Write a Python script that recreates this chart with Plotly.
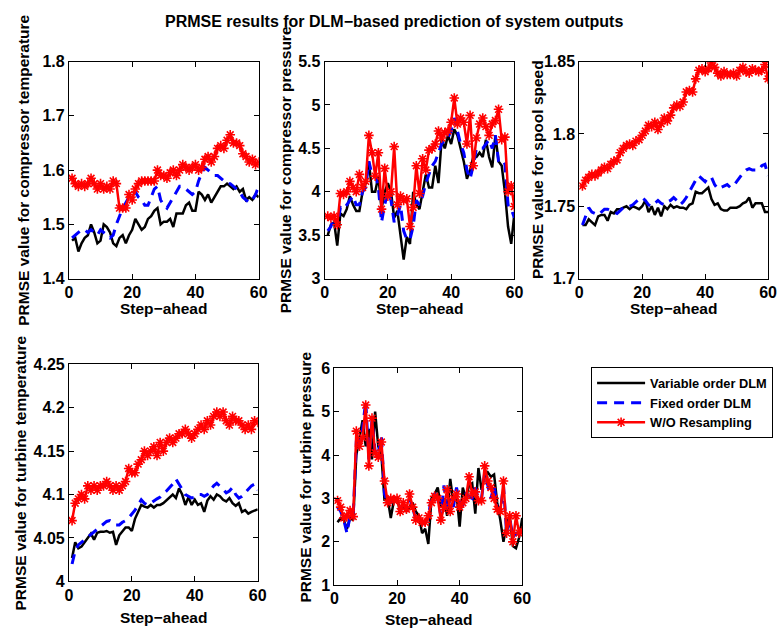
import plotly.graph_objects as go

W, H = 783, 640

steps = list(range(1, 61))

# ---- compressor temperature ----
ct_variable = [1.470, 1.475, 1.450, 1.465, 1.475, 1.480, 1.500, 1.485, 1.465, 1.470,
               1.500, 1.495, 1.485, 1.465, 1.460, 1.475, 1.480, 1.465, 1.480, 1.490,
               1.510, 1.500, 1.490, 1.495, 1.510, 1.515, 1.525, 1.530, 1.500, 1.505,
               1.505, 1.510, 1.495, 1.520, 1.520, 1.520, 1.535, 1.540, 1.525, 1.525,
               1.560, 1.555, 1.545, 1.555, 1.540, 1.550, 1.560, 1.570, 1.570, 1.575,
               1.570, 1.565, 1.570, 1.560, 1.565, 1.545, 1.550, 1.545, 1.555, 1.550]
ct_fixed = [1.475, 1.480, 1.485, 1.490, 1.490, 1.485, 1.490, 1.485, 1.480, 1.490,
            1.485, 1.480, 1.475, 1.480, 1.500, 1.515, 1.530, 1.540, 1.550, 1.555,
            1.560, 1.550, 1.545, 1.535, 1.535, 1.550, 1.565, 1.570, 1.545, 1.535,
            1.530, 1.540, 1.550, 1.560, 1.570, 1.570, 1.565, 1.560, 1.555, 1.560,
            1.580, 1.595, 1.605, 1.600, 1.595, 1.590, 1.590, 1.585, 1.580, 1.575,
            1.575, 1.570, 1.565, 1.560, 1.550, 1.545, 1.540, 1.545, 1.555, 1.570]
ct_noresamp = [1.585, 1.575, 1.570, 1.575, 1.570, 1.575, 1.585, 1.575, 1.565, 1.575,
               1.565, 1.570, 1.565, 1.580, 1.575, 1.530, 1.530, 1.530, 1.555, 1.545,
               1.565, 1.575, 1.580, 1.580, 1.580, 1.580, 1.580, 1.600, 1.590, 1.590,
               1.585, 1.595, 1.600, 1.590, 1.600, 1.610, 1.605, 1.600, 1.605, 1.610,
               1.600, 1.605, 1.620, 1.625, 1.615, 1.625, 1.640, 1.645, 1.640, 1.655,
               1.665, 1.650, 1.650, 1.645, 1.630, 1.625, 1.615, 1.620, 1.610, 1.615]

# ---- compressor pressure ----
cp_variable = [3.50, 3.62, 3.65, 3.38, 3.75, 3.72, 3.80, 3.95, 3.85, 3.78,
               3.78, 4.00, 4.10, 4.35, 4.00, 4.00, 4.18, 3.80, 4.00, 4.10,
               4.00, 3.70, 3.78, 3.50, 3.22, 3.48, 3.40, 4.00, 3.85, 3.80,
               4.00, 4.20, 4.05, 4.05, 4.30, 4.10, 4.60, 4.50, 4.65, 4.55,
               4.72, 4.65, 4.50, 4.35, 4.15, 4.25, 4.40, 4.40, 4.45, 4.40,
               4.60, 4.40, 4.28, 4.65, 4.35, 4.30, 4.00, 3.60, 3.40, 3.75]
cp_fixed = [3.55, 3.60, 3.70, 3.60, 3.82, 3.80, 3.85, 3.90, 3.95, 3.85,
            3.85, 4.00, 4.05, 4.35, 4.20, 4.20, 4.05, 3.65, 3.85, 4.00,
            3.90, 3.65, 3.72, 3.85, 3.55, 3.45, 3.45, 3.60, 3.90, 3.85,
            3.95, 4.10, 4.20, 4.30, 4.35, 4.45, 4.55, 4.60, 4.62, 4.70,
            4.85, 4.70, 4.55, 4.45, 4.25, 4.15, 4.30, 4.50, 4.50, 4.50,
            4.55, 4.60, 4.50, 4.65, 4.35, 4.30, 4.32, 3.85, 3.80, 3.70]
cp_noresamp = [3.72, 3.70, 3.72, 3.62, 3.98, 3.97, 4.00, 4.12, 4.05, 4.00,
               4.20, 4.05, 4.12, 4.65, 4.45, 4.18, 4.45, 3.80, 4.27, 3.95,
               4.00, 4.52, 3.85, 3.95, 3.90, 3.92, 3.60, 3.82, 4.30, 3.98,
               4.38, 4.25, 4.48, 4.50, 4.55, 4.70, 4.62, 4.68, 4.70, 4.80,
               5.08, 4.78, 4.85, 4.80, 4.55, 4.88, 4.30, 4.62, 4.78, 4.85,
               4.75, 4.65, 4.78, 4.82, 4.95, 4.60, 4.63, 4.00, 4.07, 3.83]

# ---- spool speed ----
ss_variable = [1.737, 1.737, 1.741, 1.739, 1.737, 1.743, 1.744, 1.744, 1.740, 1.746,
               1.745, 1.748, 1.748, 1.749, 1.750, 1.748, 1.750, 1.749, 1.748, 1.750,
               1.754, 1.746, 1.750, 1.744, 1.749, 1.743, 1.750, 1.748, 1.751, 1.749,
               1.750, 1.749, 1.749, 1.748, 1.751, 1.752, 1.760, 1.759, 1.759, 1.761,
               1.763, 1.755, 1.751, 1.752, 1.748, 1.747, 1.747, 1.749, 1.749, 1.749,
               1.750, 1.752, 1.753, 1.756, 1.749, 1.752, 1.752, 1.752, 1.746, 1.746]
ss_fixed = [1.737, 1.743, 1.749, 1.746, 1.745, 1.744, 1.746, 1.748, 1.748, 1.747,
            1.746, 1.745, 1.747, 1.749, 1.750, 1.750, 1.751, 1.753, 1.755, 1.756,
            1.754, 1.751, 1.750, 1.752, 1.754, 1.752, 1.751, 1.753, 1.754, 1.756,
            1.754, 1.751, 1.753, 1.756, 1.760, 1.765, 1.768, 1.771, 1.769, 1.767,
            1.770, 1.770, 1.765, 1.762, 1.763, 1.764, 1.765, 1.763, 1.764, 1.767,
            1.770, 1.773, 1.775, 1.776, 1.775, 1.775, 1.775, 1.778, 1.779, 1.771]
ss_noresamp = [1.764, 1.768, 1.770, 1.772, 1.771, 1.773, 1.775, 1.777, 1.776, 1.779,
               1.781, 1.782, 1.787, 1.790, 1.792, 1.793, 1.792, 1.795, 1.796, 1.799,
               1.802, 1.806, 1.805, 1.808, 1.803, 1.807, 1.811, 1.809, 1.813, 1.818,
               1.820, 1.819, 1.822, 1.829, 1.830, 1.829, 1.838, 1.844, 1.845, 1.843,
               1.845, 1.849, 1.846, 1.842, 1.840, 1.843, 1.841, 1.841, 1.842, 1.840,
               1.844, 1.846, 1.843, 1.842, 1.845, 1.844, 1.843, 1.844, 1.848, 1.838]

# ---- turbine temperature ----
tt_variable = [4.027, 4.045, 4.038, 4.040, 4.045, 4.050, 4.055, 4.048, 4.056, 4.057,
               4.057, 4.058, 4.056, 4.057, 4.042, 4.053, 4.058, 4.062, 4.062, 4.058,
               4.072, 4.080, 4.088, 4.086, 4.085, 4.088, 4.085, 4.088, 4.088, 4.090,
               4.093, 4.096, 4.100, 4.096, 4.107, 4.100, 4.088, 4.097, 4.088, 4.094,
               4.088, 4.090, 4.080, 4.093, 4.098, 4.094, 4.100, 4.098, 4.094, 4.092,
               4.096, 4.090, 4.087, 4.090, 4.080, 4.082, 4.078, 4.080, 4.082, 4.083]
tt_fixed = [4.020, 4.035, 4.042, 4.045, 4.048, 4.052, 4.055, 4.058, 4.060, 4.063,
            4.066, 4.069, 4.070, 4.068, 4.065, 4.065, 4.068, 4.070, 4.073, 4.077,
            4.082, 4.088, 4.094, 4.090, 4.088, 4.090, 4.093, 4.095, 4.097, 4.100,
            4.104, 4.108, 4.112, 4.118, 4.112, 4.106, 4.100, 4.098, 4.096, 4.097,
            4.100, 4.100, 4.098, 4.100, 4.105, 4.110, 4.113, 4.110, 4.106, 4.102,
            4.104, 4.108, 4.100, 4.096, 4.098, 4.102, 4.106, 4.110, 4.112, 4.105]
tt_noresamp = [4.070, 4.090, 4.095, 4.100, 4.095, 4.110, 4.105, 4.110, 4.105, 4.110,
               4.110, 4.115, 4.110, 4.105, 4.110, 4.105, 4.110, 4.115, 4.130, 4.125,
               4.125, 4.135, 4.140, 4.150, 4.145, 4.150, 4.155, 4.145, 4.160, 4.150,
               4.160, 4.165, 4.160, 4.165, 4.170, 4.170, 4.175, 4.170, 4.165, 4.170,
               4.175, 4.180, 4.175, 4.185, 4.180, 4.190, 4.195, 4.190, 4.195, 4.185,
               4.180, 4.190, 4.185, 4.185, 4.180, 4.175, 4.180, 4.175, 4.185, 4.183]

# ---- turbine pressure ----
tp_variable = [2.45, 2.55, 2.50, 2.30, 2.55, 2.50, 4.00, 4.40, 4.80, 4.20,
               4.60, 3.90, 5.00, 4.20, 4.00, 2.95, 3.00, 2.55, 2.95, 3.00,
               2.70, 2.80, 2.70, 2.80, 2.90, 2.70, 2.60, 2.20, 2.30, 1.95,
               3.00, 3.10, 3.25, 2.80, 3.00, 2.60, 3.45, 2.90, 3.10, 2.35,
               3.25, 3.00, 3.30, 3.35, 2.65, 3.70, 3.20, 3.50, 3.60, 3.50,
               3.55, 2.90, 2.50, 2.00, 2.40, 2.60, 1.90, 1.85, 2.10, 2.55]
tp_fixed = [2.80, 2.70, 2.50, 2.20, 2.60, 2.60, 4.30, 4.30, 4.60, 5.25,
            3.90, 4.80, 4.10, 4.00, 4.45, 3.10, 2.90, 2.90, 3.00, 2.90,
            2.75, 2.85, 2.80, 3.00, 2.80, 2.50, 2.45, 2.40, 2.45, 2.55,
            3.05, 3.10, 3.00, 2.60, 3.30, 2.70, 3.00, 2.80, 3.25, 2.90,
            2.85, 3.10, 3.05, 3.00, 3.25, 3.00, 3.00, 3.60, 3.30, 3.00,
            3.30, 2.75, 2.70, 3.30, 2.20, 2.55, 2.10, 2.20, 2.20, 2.25]
tp_noresamp = [2.95, 2.80, 2.55, 2.60, 2.72, 2.58, 4.55, 4.20, 4.40, 5.15,
               3.75, 4.85, 4.05, 3.95, 4.30, 3.40, 2.90, 3.00, 2.95, 3.00,
               2.70, 2.90, 2.75, 3.10, 2.80, 2.50, 2.55, 2.45, 2.45, 2.60,
               2.90, 3.05, 3.00, 2.50, 2.80, 3.20, 2.70, 3.00, 3.10, 2.80,
               2.90, 3.00, 3.50, 3.10, 3.15, 2.95, 2.95, 3.75, 3.40, 3.25,
               3.00, 2.75, 2.70, 3.40, 2.20, 2.60, 2.00, 2.60, 2.20, 2.25]

series_names = ["Variable order DLM", "Fixed order DLM", "W/O Resampling"]
y_labels = ["PRMSE value for compressor temperature",
            "PRMSE value for compressor pressure",
            "PRMSE value for spool speed",
            "PRMSE value for turbine temperature",
            "PRMSE value for turbine pressure"]
x_label = "Step\u2212ahead"
title_text = "PRMSE results for DLM\u2212based prediction of system outputs"

panels = [
    (ct_variable, ct_fixed, ct_noresamp, [1.4, 1.8], [1.4, 1.5, 1.6, 1.7, 1.8]),
    (cp_variable, cp_fixed, cp_noresamp, [3, 5.5], [3, 3.5, 4, 4.5, 5, 5.5]),
    (ss_variable, ss_fixed, ss_noresamp, [1.7, 1.85], [1.7, 1.75, 1.8, 1.85]),
    (tt_variable, tt_fixed, tt_noresamp, [4, 4.25], [4, 4.05, 4.1, 4.15, 4.2, 4.25]),
    (tp_variable, tp_fixed, tp_noresamp, [1, 6], [1, 2, 3, 4, 5, 6]),
]

# axes boxes in pixels: (left, right, top, bottom)
boxes = [(66, 259, 55, 278), (326, 519, 55, 278), (585, 777, 55, 278),
         (66, 258, 366, 589), (336, 527, 370, 593)]
ylabel_x = [19, 286, 542, 17, 307]
xlabel_y = [309, 309, 309, 626, 628]


def px(x):
    return x / W


def py(y):
    return 1 - y / H


FONT = "Liberation Sans, Arial, Helvetica, sans-serif"

fig = go.Figure()
layout = {}
annotations = []

for i, (var, fix, nor, yr, yt) in enumerate(panels):
    n = "" if i == 0 else str(i + 1)
    xa, ya = "x" + n, "y" + n
    first = i == 0
    fig.add_trace(go.Scatter(
        x=steps, y=var, mode="lines", name=series_names[0], xaxis=xa, yaxis=ya,
        line=dict(color="black", width=2.5), legendgroup="v", showlegend=first))
    fig.add_trace(go.Scatter(
        x=steps, y=fix, mode="lines", name=series_names[1], xaxis=xa, yaxis=ya,
        line=dict(color="#0000ff", width=3, dash="10px,7px"),
        legendgroup="f", showlegend=first))
    fig.add_trace(go.Scatter(
        x=steps, y=nor, mode="lines+markers", name=series_names[2], xaxis=xa, yaxis=ya,
        line=dict(color="#ff0000", width=2.5),
        marker=dict(symbol="asterisk-open", size=8, color="#ff0000",
                    line=dict(color="#ff0000", width=1.6)),
        legendgroup="r", showlegend=first))

    l, r, t, b = boxes[i]
    common = dict(showline=True, mirror="ticks", linecolor="black", linewidth=1,
                  ticks="inside", ticklen=5, tickcolor="black", tickwidth=1,
                  showgrid=False, zeroline=False,
                  tickfont=dict(family=FONT, size=16, color="black", weight="bold"))
    layout["xaxis" + n] = dict(domain=[px(l), px(r)], anchor=ya, range=[0, 60],
                               tickvals=[0, 20, 40, 60], ticklabelstandoff=-1, **common)
    layout["yaxis" + n] = dict(domain=[py(b), py(t)], anchor=xa, range=yr,
                               tickvals=yt, **common)

    annotations.append(dict(
        text=y_labels[i], x=px(ylabel_x[i]), y=py((t + b) / 2), xref="paper", yref="paper",
        textangle=-90, showarrow=False, xanchor="center", yanchor="middle",
        font=dict(family=FONT, size=15.5, color="black", weight="bold")))
    annotations.append(dict(
        text=x_label, x=px((l + r) / 2), y=py(xlabel_y[i]), xref="paper", yref="paper",
        showarrow=False, xanchor="center", yanchor="middle",
        font=dict(family=FONT, size=15.5, color="black", weight="bold")))

annotations.append(dict(
    text=title_text, x=px(397), y=py(14), xref="paper", yref="paper",
    showarrow=False, xanchor="center", yanchor="middle",
    font=dict(family=FONT, size=16, color="black", weight="bold")))

fig.update_layout(
    width=W, height=H,
    margin=dict(l=0, r=0, t=0, b=0),
    paper_bgcolor="white", plot_bgcolor="white",
    annotations=annotations,
    legend=dict(x=px(597), y=py(369), xanchor="left", yanchor="top",
                bordercolor="black", borderwidth=1, bgcolor="white",
                itemwidth=48,
                font=dict(family=FONT, size=12.8, color="black", weight="bold"),
                tracegroupgap=0),
    **layout,
)

fig.write_html("out.html")
